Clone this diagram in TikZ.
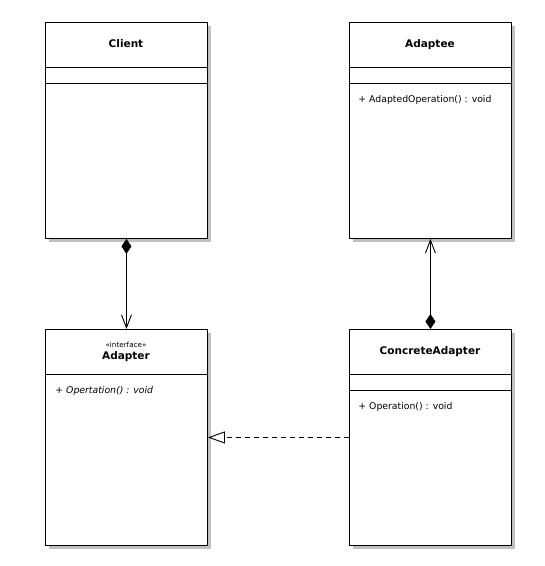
\documentclass[tikz,border=0pt]{standalone}
\usepackage{fontspec}
\setmainfont{DejaVu Sans}
\usetikzlibrary{shadows,arrows.meta}

\begin{document}
\begin{tikzpicture}[x=1pt, y=-1pt, line width=0.9pt,
    classbox/.style={draw=black, fill=white, anchor=north west, inner sep=0pt,
        minimum width=162pt, minimum height=216pt,
        drop shadow={shadow xshift=4pt, shadow yshift=-4pt, fill=black!25, opacity=1}},
    classname/.style={font=\bfseries\fontsize{10.5}{12}\selectfont, inner sep=0pt},
    stereo/.style={font=\fontsize{7.2}{8}\selectfont, inner sep=0pt},
    operation/.style={font=\fontsize{9.3}{11}\selectfont, anchor=west, inner sep=0pt},
    composition/.style={{Diamond[fill=black, length=15pt, width=10pt]}-{Straight Barb[length=13pt, width=10pt, line width=0.9pt]}},
    realization/.style={dashed, dash pattern=on 5pt off 4pt, -{Triangle[open, fill=white, length=17pt, width=12pt, line width=0.9pt]}}]
    \useasboundingbox (0,0) rectangle (545,566);

    \node[classbox] at (45,22) (client) {};
    \node[classbox] at (349,22) (adaptee) {};
    \node[classbox] at (45,329) (adapter) {};
    \node[classbox] at (349,329) (concrete) {};

    \draw (client.north west) ++(0,45) -- ++(162,0) ++(-162,16) -- ++(162,0);
    \draw (adaptee.north west) ++(0,45) -- ++(162,0) ++(-162,16) -- ++(162,0);
    \draw (adapter.north west) ++(0,45) -- ++(162,0);
    \draw (concrete.north west) ++(0,45) -- ++(162,0) ++(-162,16) -- ++(162,0);

    \node[classname] at (126,44) (clientname) {Client};
    \node[classname] at (430,45) (adapteename) {Adaptee};
    \node[stereo] at (126,345) (adapterstereo) {«interface»};
    \node[classname] at (126,357) (adaptername) {Adapter};
    \node[classname] at (430,352) (concretename) {ConcreteAdapter};

    \node[operation] at (358,100) (adapteeop) {+ AdaptedOperation() : void};
    \node[operation] at (55,391) (adapterop) {\itshape + Opertation() : void};
    \node[operation] at (358,407) (concreteop) {+ Operation() : void};

    \draw[composition] (client.south) -- (adapter.north);
    \draw[composition] (concrete.north) -- (adaptee.south);
    \draw[realization] (concrete.west) -- (adapter.east);
\end{tikzpicture}
\end{document}
